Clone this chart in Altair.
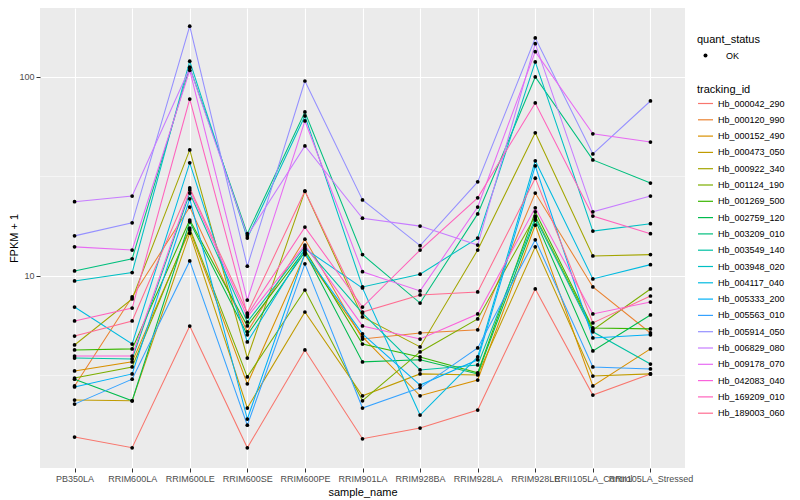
import altair as alt
import pandas as pd

samples = ["PB350LA", "RRIM600LA", "RRIM600LE", "RRIM600SE", "RRIM600PE", "RRIM901LA",
           "RRIM928BA", "RRIM928LA", "RRIM928LE", "RRII105LA_Control", "RRII105LA_Stressed"]

tracking_ids = ["Hb_000042_290", "Hb_000120_990", "Hb_000152_490", "Hb_000473_050", "Hb_000922_340",
                "Hb_001124_190", "Hb_001269_500", "Hb_002759_120", "Hb_003209_010", "Hb_003549_140",
                "Hb_003948_020", "Hb_004117_040", "Hb_005333_200", "Hb_005563_010", "Hb_005914_050",
                "Hb_006829_080", "Hb_009178_070", "Hb_042083_040", "Hb_169209_010", "Hb_189003_060"]

colors = ["#F8766D", "#EA8331", "#D89000", "#C09B00", "#A3A500", "#7CAE00", "#39B600", "#00BB4E",
          "#00BF7D", "#00C1A3", "#00BFC4", "#00BAE0", "#00B0F6", "#35A2FF", "#9590FF", "#C77CFF",
          "#E76BF3", "#FA62DB", "#FF62BC", "#FF6C91"]

# FPKM + 1 per sample (same order as `samples`)
hb_000042_290 = [1.55, 1.37, 5.6, 1.37, 4.25, 1.52, 1.72, 2.12, 8.6, 2.52, 3.22]
hb_000120_990 = [2.80, 7.84, 22.2, 5.24, 15.3, 4.82, 5.17, 5.36, 26.1, 8.81, 5.17]
hb_000152_490 = [3.33, 3.70, 17.0, 2.87, 12.8, 4.94, 2.50, 3.00, 18.0, 2.80, 4.30]
hb_000473_050 = [2.38, 2.36, 16.4, 2.17, 6.59, 2.50, 3.22, 3.18, 14.0, 3.14, 3.22]
hb_000922_340 = [4.50, 7.66, 43.0, 3.87, 26.7, 6.22, 4.40, 13.5, 52.4, 12.6, 12.8]
hb_001124_190 = [3.07, 3.49, 17.4, 3.11, 8.5, 2.36, 4.15, 6.08, 20.0, 5.36, 8.6]
hb_001269_500 = [4.25, 4.30, 19.1, 5.61, 13.5, 4.55, 3.92, 3.26, 21.0, 5.48, 5.42]
hb_002759_120 = [3.03, 2.36, 18.7, 5.06, 13.2, 3.70, 3.79, 3.22, 19.1, 4.20, 6.37]
hb_003209_010 = [10.6, 12.2, 112.0, 16.3, 66.7, 12.8, 7.31, 20.5, 100.0, 38.3, 29.3]
hb_003549_140 = [3.87, 3.83, 26.1, 5.87, 14.0, 6.51, 3.37, 3.57, 19.6, 5.24, 3.61]
hb_003948_020 = [9.44, 10.4, 120.0, 15.5, 63.7, 8.81, 10.2, 15.5, 119.0, 16.8, 18.3]
hb_004117_040 = [6.98, 4.55, 37.0, 4.66, 13.7, 8.70, 2.00, 3.92, 37.9, 9.66, 11.4]
hb_005333_200 = [2.77, 3.22, 24.4, 1.91, 13.0, 5.12, 2.83, 3.79, 35.7, 4.88, 5.06]
hb_005563_010 = [2.27, 3.03, 11.9, 1.78, 11.5, 2.17, 2.74, 4.35, 15.2, 3.49, 3.41]
hb_005914_050 = [15.9, 18.5, 180.0, 11.2, 95.4, 24.1, 14.2, 29.7, 157.0, 41.0, 75.7]
hb_006829_080 = [23.6, 25.2, 111.0, 15.9, 45.0, 19.5, 17.8, 14.3, 147.0, 21.0, 25.2]
hb_009178_070 = [14.0, 13.5, 108.0, 7.57, 60.1, 10.5, 8.41, 22.2, 134.0, 51.8, 47.1]
hb_042083_040 = [3.96, 3.96, 27.0, 6.22, 14.3, 5.61, 4.82, 6.44, 22.0, 6.44, 7.39]
hb_169209_010 = [5.94, 6.90, 77.4, 6.37, 17.6, 6.98, 13.5, 24.7, 74.0, 20.0, 16.3]
hb_189003_060 = [4.99, 5.94, 27.7, 6.51, 26.7, 6.59, 8.03, 8.31, 31.0, 5.81, 7.93]

series = [hb_000042_290, hb_000120_990, hb_000152_490, hb_000473_050, hb_000922_340,
          hb_001124_190, hb_001269_500, hb_002759_120, hb_003209_010, hb_003549_140,
          hb_003948_020, hb_004117_040, hb_005333_200, hb_005563_010, hb_005914_050,
          hb_006829_080, hb_009178_070, hb_042083_040, hb_169209_010, hb_189003_060]

minor_breaks = [3.1623, 31.623]
major_breaks = [10, 100]

rows = []
for tid, vals in zip(tracking_ids, series):
    for s, v in zip(samples, vals):
        rows.append({"tracking_id": tid, "sample_name": s, "fpkm": v, "quant_status": "OK"})
df = pd.DataFrame(rows)
minor_df = pd.DataFrame({"fpkm": minor_breaks})

FONT = "Liberation Sans"
yscale = alt.Scale(type="log", domain=[1.084, 222], nice=False, zero=False)
xscale = alt.Scale(type="point", padding=0.6, domain=samples)

yaxis = alt.Axis(title="FPKM + 1", values=major_breaks, format="d", grid=True,
                 gridColor="white", gridWidth=1.1, domain=False, tickColor="#333333",
                 tickSize=4, labelPadding=2, labelColor="#4D4D4D", labelFontSize=9,
                 labelFont=FONT, titleFont=FONT, titleFontSize=11,
                 titleFontWeight="normal", titleColor="black",
                 titleX=-26, titleBaseline="middle", titleAngle=270)

xaxis = alt.Axis(title="sample_name", grid=True, gridColor="white", gridWidth=1.1,
                 domain=False, tickColor="#333333", tickSize=4, labelPadding=2,
                 labelColor="#4D4D4D", labelFontSize=9, labelAngle=0, labelFont=FONT,
                 titleFont=FONT, titleFontSize=11, titleFontWeight="normal",
                 titleColor="black", titlePadding=3, labelOverlap=False)

minor = alt.Chart(minor_df).mark_rule(color="white", strokeWidth=0.55).encode(
    y=alt.Y("fpkm:Q", scale=yscale, axis=yaxis)
)

lines = alt.Chart(df).mark_line(strokeWidth=1.05).encode(
    x=alt.X("sample_name:N", sort=samples, scale=xscale, axis=xaxis),
    y=alt.Y("fpkm:Q", scale=yscale, axis=yaxis),
    color=alt.Color("tracking_id:N", scale=alt.Scale(domain=tracking_ids, range=colors),
                    legend=alt.Legend(title="tracking_id", orient="none", legendX=657, legendY=76,
                                      symbolType="stroke", symbolSize=225, symbolStrokeWidth=1.2,
                                      rowPadding=2.3, labelFontSize=9, labelFont=FONT,
                                      labelColor="black", titleFont=FONT, titleFontSize=11,
                                      titleFontWeight="normal", titleColor="black",
                                      titlePadding=0, labelOffset=4)),
    detail="tracking_id:N",
)

points = alt.Chart(df).mark_point(filled=True, size=14, opacity=1, color="black").encode(
    x=alt.X("sample_name:N", sort=samples, scale=xscale, axis=xaxis),
    y=alt.Y("fpkm:Q", scale=yscale, axis=yaxis),
    shape=alt.Shape("quant_status:N", scale=alt.Scale(domain=["OK"], range=["circle"]),
                    legend=alt.Legend(title="quant_status", orient="none", legendX=657, legendY=26,
                                      symbolSize=16, symbolFillColor="black",
                                      symbolStrokeColor="black", labelFontSize=9, labelFont=FONT,
                                      labelColor="black", titleFont=FONT, titleFontSize=11,
                                      titleFontWeight="normal", titleColor="black",
                                      titlePadding=6, labelOffset=16, symbolOffset=4)),
)

chart = alt.layer(minor, lines, points).resolve_scale(color="independent").properties(
    width=645, height=460,
    autosize=alt.AutoSizeParams(type="none"),
    padding={"left": 32, "top": 0, "right": 107, "bottom": 30},
).configure_view(fill="#EBEBEB", stroke=None)

chart.save("out.html", embed_options={"renderer": "svg", "actions": False})
